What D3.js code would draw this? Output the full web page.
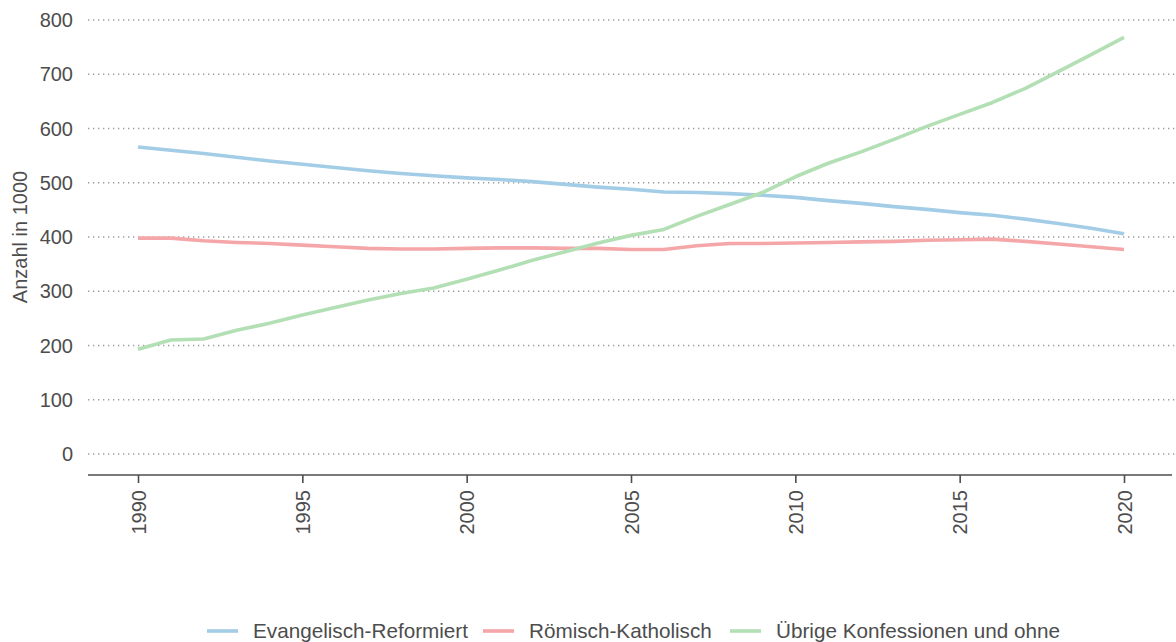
<!DOCTYPE html>
<html>
<head>
<meta charset="utf-8">
<script src="https://cdn.jsdelivr.net/npm/d3@7"></script>
<style>
  body { margin: 0; background: #fff; }
  text { font-family: "Liberation Sans", Arial, sans-serif; }
</style>
</head>
<body>
<div id="chart"></div>
<script>
const years = d3.range(1990, 2021)
const evangelisch = [566, 560, 554, 547, 540, 534, 528, 522, 517, 513, 509, 506, 502, 497, 492, 488, 483, 482, 480, 477, 473, 467, 462, 456, 451, 445, 440, 433, 425, 416, 406]
const katholisch = [398, 398, 393, 390, 388, 385, 382, 379, 378, 378, 379, 380, 380, 379, 379, 377, 377, 384, 388, 388, 389, 390, 391, 392, 394, 395, 396, 392, 387, 382, 377]
const uebrige = [193, 210, 212, 228, 241, 256, 270, 284, 296, 306, 322, 339, 357, 373, 389, 403, 414, 438, 460, 482, 511, 536, 557, 580, 604, 626, 648, 674, 705, 736, 768]
const seriesNames = ['Evangelisch-Reformiert', 'Römisch-Katholisch', 'Übrige Konfessionen und ohne']
const yTicks = [0, 100, 200, 300, 400, 500, 600, 700, 800]
const xTicks = [1990, 1995, 2000, 2005, 2010, 2015, 2020]

const width = 1176
const height = 642
const colors = ['#a3cde6', '#f5a6a8', '#b3dfb5']
const textColor = '#4d4d4d'
const FONT_SIZE = 20

const series = [evangelisch, katholisch, uebrige].map((vals, k) => ({
  name: seriesNames[k],
  color: colors[k],
  values: vals.map((v, i) => ({year: years[i], value: v}))
}))

const x = d3.scaleLinear().domain([1990, 2020]).range([138, 1124])
const y = d3.scaleLinear().domain([0, 800]).range([454, 20])

const svg = d3.select('#chart').append('svg')
  .attr('width', width).attr('height', height)

// gridlines
svg.append('g')
  .selectAll('line')
  .data(yTicks)
  .enter()
  .append('line')
  .attr('x1', 88).attr('x2', width)
  .attr('y1', d => y(d)).attr('y2', d => y(d))
  .attr('stroke', '#9a9a9a').attr('stroke-width', 1.3)
  .attr('stroke-dasharray', '1.3,3.7')

// y labels
svg.append('g')
  .selectAll('text')
  .data(yTicks)
  .enter()
  .append('text')
  .attr('x', 73).attr('y', d => y(d)).attr('dy', '0.35em')
  .attr('text-anchor', 'end').attr('font-size', FONT_SIZE).attr('fill', textColor)
  .text(d => d)

svg.append('text')
  .attr('transform', `translate(27, ${y(400)}) rotate(-90)`)
  .attr('text-anchor', 'middle').attr('font-size', 20).attr('fill', textColor)
  .text('Anzahl in 1000')

// x axis
const xAxis = d3.axisBottom(x).tickValues(xTicks).tickFormat(d3.format('d')).tickSize(8).tickSizeOuter(0)
const gx = svg.append('g').attr('transform', 'translate(0, 475)').call(xAxis)
gx.select('.domain').remove()
gx.append('line')
  .attr('x1', 88).attr('x2', 1172).attr('y1', 0).attr('y2', 0)
  .attr('stroke', textColor).attr('stroke-width', 1.6)
gx.selectAll('.tick line').attr('stroke', textColor).attr('stroke-width', 1.6)
gx.selectAll('.tick text')
  .attr('font-size', FONT_SIZE).attr('fill', textColor)
  .attr('font-family', '"Liberation Sans", Arial, sans-serif')
  .attr('transform', 'rotate(-90)')
  .attr('x', -15).attr('y', 0).attr('dy', '0.35em')
  .attr('text-anchor', 'end')

// lines
const line = d3.line().x(d => x(d.year)).y(d => y(d.value))
svg.append('g')
  .selectAll('path')
  .data(series)
  .enter()
  .append('path')
  .attr('d', d => line(d.values))
  .attr('fill', 'none')
  .attr('stroke', d => d.color)
  .attr('stroke-width', 3.6)
  .attr('stroke-linejoin', 'round')

// legend
const legendX = [207, 483, 730]
const lg = svg.append('g')
  .selectAll('g')
  .data(series)
  .enter()
  .append('g')
  .attr('transform', (d, i) => `translate(${legendX[i]}, 631)`)
lg.append('line')
  .attr('x1', 0).attr('x2', 31).attr('y1', 0).attr('y2', 0)
  .attr('stroke', d => d.color).attr('stroke-width', 3.6)
lg.append('text')
  .attr('x', 46).attr('dy', '0.35em')
  .attr('font-size', 20.7).attr('fill', textColor)
  .text(d => d.name)
</script>
</body>
</html>
